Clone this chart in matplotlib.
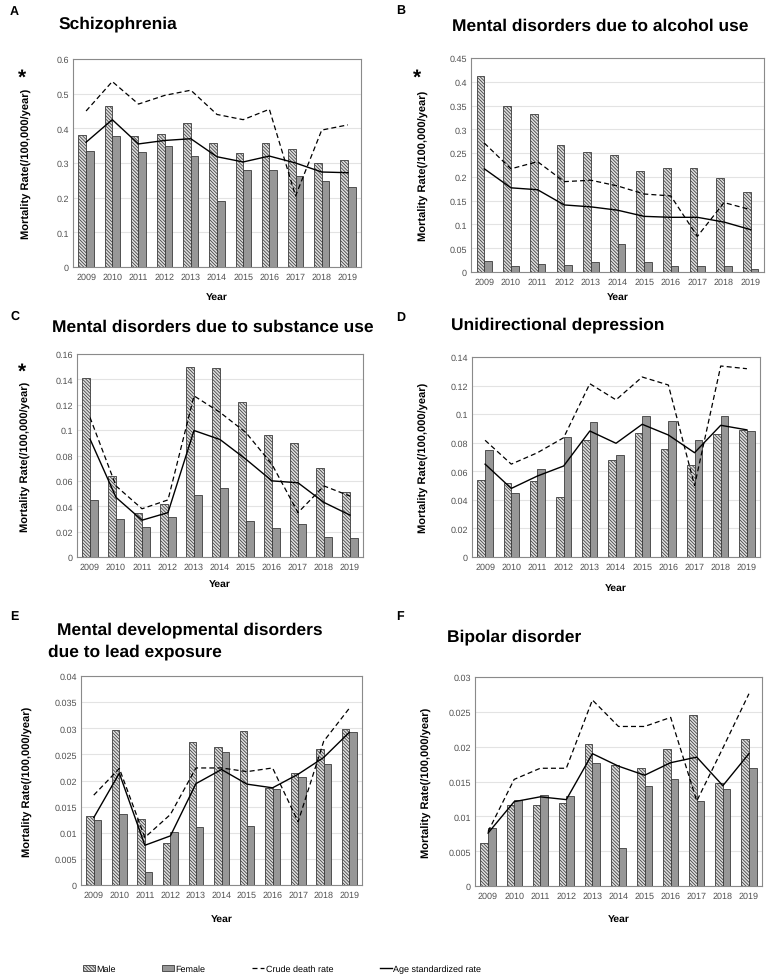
import numpy as np
import matplotlib
matplotlib.use("Agg")
import matplotlib.pyplot as plt
from matplotlib.ticker import FuncFormatter, MultipleLocator

years = [2009, 2010, 2011, 2012, 2013, 2014, 2015, 2016, 2017, 2018, 2019]

# A - Schizophrenia
schizo_male = [0.38, 0.463, 0.378, 0.383, 0.416, 0.357, 0.328, 0.357, 0.34, 0.30, 0.31]
schizo_female = [0.335, 0.378, 0.333, 0.348, 0.32, 0.19, 0.279, 0.281, 0.262, 0.248, 0.232]
schizo_crude = [0.45, 0.535, 0.47, 0.495, 0.51, 0.44, 0.425, 0.455, 0.205, 0.395, 0.41]
schizo_age = [0.36, 0.425, 0.355, 0.365, 0.37, 0.318, 0.303, 0.32, 0.3, 0.274, 0.272]

# B - alcohol use
alcohol_male = [0.412, 0.350, 0.332, 0.267, 0.252, 0.246, 0.213, 0.218, 0.218, 0.197, 0.169]
alcohol_female = [0.023, 0.012, 0.016, 0.014, 0.02, 0.059, 0.022, 0.013, 0.012, 0.012, 0.006]
alcohol_crude = [0.271, 0.217, 0.232, 0.19, 0.193, 0.181, 0.164, 0.16, 0.075, 0.146, 0.131]
alcohol_age = [0.217, 0.177, 0.173, 0.141, 0.137, 0.13, 0.117, 0.115, 0.115, 0.105, 0.089]

# C - substance use
subst_male = [0.1414, 0.0635, 0.0344, 0.0414, 0.1497, 0.149, 0.1225, 0.096, 0.09, 0.070, 0.0514]
subst_female = [0.045, 0.030, 0.0233, 0.0317, 0.0488, 0.0543, 0.0286, 0.0226, 0.026, 0.0155, 0.015]
subst_crude = [0.11, 0.056, 0.038, 0.045, 0.127, 0.114, 0.098, 0.073, 0.035, 0.056, 0.048]
subst_age = [0.093, 0.047, 0.029, 0.035, 0.0997, 0.0926, 0.077, 0.06, 0.0585, 0.043, 0.033]

# D - unidirectional depression
depr_male = [0.0537, 0.052, 0.053, 0.0422, 0.0817, 0.0677, 0.0868, 0.0758, 0.0642, 0.0859, 0.0891]
depr_female = [0.0749, 0.0446, 0.0614, 0.0838, 0.0943, 0.0714, 0.0985, 0.095, 0.0821, 0.0987, 0.0882]
depr_crude = [0.0817, 0.065, 0.073, 0.0835, 0.1213, 0.11, 0.126, 0.1204, 0.050, 0.1337, 0.1318]
depr_age = [0.065, 0.048, 0.0567, 0.0637, 0.0882, 0.0796, 0.0929, 0.0854, 0.073, 0.0922, 0.089]

# E - lead exposure
lead_male = [0.0132, 0.0297, 0.0126, 0.0081, 0.0274, 0.0264, 0.0294, 0.0186, 0.0215, 0.026, 0.0298]
lead_female = [0.0125, 0.0136, 0.0024, 0.0102, 0.0111, 0.0255, 0.0112, 0.0184, 0.0207, 0.0231, 0.0292]
lead_crude = [0.0172, 0.0223, 0.0091, 0.0135, 0.0224, 0.0224, 0.0217, 0.0224, 0.0121, 0.0275, 0.0338]
lead_age = [0.0129, 0.0214, 0.0076, 0.0094, 0.0194, 0.0221, 0.0193, 0.0186, 0.0212, 0.0244, 0.0292]

# F - bipolar disorder
bipolar_male = [0.0062, 0.0116, 0.0116, 0.0119, 0.0204, 0.0173, 0.0169, 0.0196, 0.0245, 0.0148, 0.0211]
bipolar_female = [0.0083, 0.0124, 0.0131, 0.0129, 0.0176, 0.0054, 0.0143, 0.0153, 0.0122, 0.0139, 0.017]
bipolar_crude = [0.0078, 0.0153, 0.0169, 0.0169, 0.0267, 0.0229, 0.0229, 0.0242, 0.0122, 0.0198, 0.0276]
bipolar_age = [0.0076, 0.0121, 0.0128, 0.0124, 0.019, 0.0172, 0.0159, 0.0177, 0.0185, 0.0144, 0.019]

legend_labels = ["Male", "Female", "Crude death rate", "Age standardized rate"]

W, H = 767, 979
plt.rcParams["font.family"] = ["Liberation Sans", "DejaVu Sans"]
plt.rcParams["hatch.linewidth"] = 0.55
plt.rcParams["text.hinting"] = "no_hinting"


def rect(x0, y0, x1, y1):
    """pixel box (top-left origin) -> figure fraction rect"""
    return [x0 / W, 1 - y1 / H, (x1 - x0) / W, (y1 - y0) / H]


def ftext(x, y, s, **kw):
    fig.text(x / W, 1 - y / H, s, **kw)


def draw_panel(ax, male, female, crude, age, ymax, ystep, ylab_x, xlab_y):
    x = np.arange(len(years))
    w = 0.29
    bm = ax.bar(x - w / 2, male, w, facecolor="#dedede", edgecolor="#3c3c3c",
                hatch="\\" * 10, linewidth=0.6, zorder=2)
    bf = ax.bar(x + w / 2, female, w, facecolor="#979797", edgecolor="#3c3c3c",
                linewidth=0.6, zorder=2)
    lc, = ax.plot(x, crude, color="black", lw=0.9, ls=(0, (4, 2.5)), zorder=3)
    la, = ax.plot(x, age, color="black", lw=1.0, zorder=3)

    ax.set_xlim(-0.5, len(years) - 0.5)
    ax.set_ylim(0, ymax)
    ax.set_xticks(x)
    ax.set_xticklabels(years)
    ax.yaxis.set_major_locator(MultipleLocator(ystep))
    ax.yaxis.set_major_formatter(FuncFormatter(lambda v, p: "%g" % round(v, 4)))
    ax.tick_params(length=0, labelsize=6.5, labelcolor="#505050")
    ax.tick_params(axis="x", pad=4)
    ax.tick_params(axis="y", pad=3)
    ax.yaxis.grid(True, color="#e3e3e3", lw=0.8, zorder=0)
    ax.set_axisbelow(True)
    for s in ax.spines.values():
        s.set_color("#8a8a8a")
        s.set_linewidth(0.8)

    ax.set_ylabel("Mortality Rate(/100,000/year)", fontsize=8, fontweight="bold",
                  va="center")
    ax.yaxis.set_label_coords(ylab_x, 0.5)
    ax.set_xlabel("Year", fontsize=7.5, fontweight="bold", va="center")
    ax.xaxis.set_label_coords(0.5, xlab_y)
    return bm, bf, lc, la


fig = plt.figure(figsize=(W / 100, H / 100), dpi=100)

panels = [
    # letter, title lines, data, ymax, step, axes box px, ylabel x, xlabel y
    ("A", [(58, 24, "Schizophrenia")], schizo_male, schizo_female, schizo_crude, schizo_age,
     0.6, 0.1, (73, 60, 361, 268), -0.16, -0.14),
    ("B", [(452, 26, "Mental disorders due to alcohol use")], alcohol_male, alcohol_female,
     alcohol_crude, alcohol_age, 0.45, 0.05, (471, 59, 764, 273), -0.16, -0.115),
    ("C", [(52, 327, "Mental disorders due to substance use")], subst_male, subst_female,
     subst_crude, subst_age, 0.16, 0.02, (77, 355, 363, 558), -0.18, -0.13),
    ("D", [(451, 325, "Unidirectional depression")], depr_male, depr_female, depr_crude,
     depr_age, 0.14, 0.02, (472, 358, 760, 558), -0.167, -0.15),
    ("E", [(57, 630, "Mental developmental disorders"), (48, 652, "due to lead exposure")],
     lead_male, lead_female, lead_crude, lead_age, 0.04, 0.005, (81, 677, 362, 886), -0.19, -0.16),
    ("F", [(447, 637, "Bipolar disorder")], bipolar_male, bipolar_female, bipolar_crude,
     bipolar_age, 0.03, 0.005, (475, 678, 762, 887), -0.167, -0.155),
]
letter_pos = {"A": (10, 12), "B": (396, 11), "C": (10, 317), "D": (396, 318), "E": (10, 617), "F": (396, 617)}

handles = None
for letter, titles, m, f, c, a, ymax, step, box, ylx, xly in panels:
    ax = fig.add_axes(rect(*box))
    h = draw_panel(ax, m, f, c, a, ymax, step, ylx, xly)
    if handles is None:
        handles = h
    for tx, ty, t in titles:
        ftext(tx, ty, t, fontsize=12.5, fontweight="bold", ha="left", va="center")
    lx, ly = letter_pos[letter]
    ftext(lx, ly, letter, fontsize=9, fontweight="bold", ha="left", va="center")

# significance stars, sitting just above the y labels
for sx, sy in [(22, 78), (417, 78), (22, 372)]:
    ftext(sx, sy, "*", fontsize=15, fontweight="bold", ha="center", va="center")

fig.legend(handles, legend_labels, loc="center", bbox_to_anchor=(282 / W, 1 - 970 / H),
           ncol=4, frameon=False, handlelength=1.3, handletextpad=0.15, columnspacing=5.2,
           prop={"size": 6.5})

fig.savefig("out.png", dpi=100)
